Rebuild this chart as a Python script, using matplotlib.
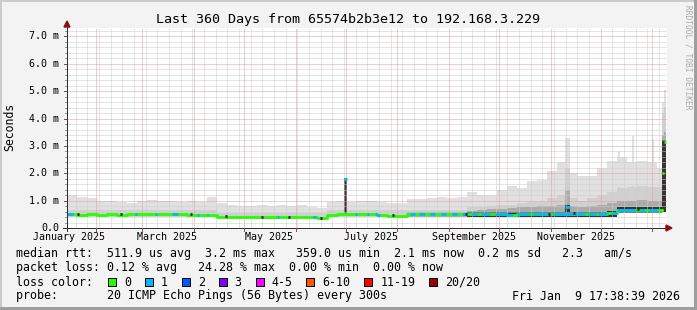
import datetime as dt

import matplotlib
matplotlib.use("Agg")
import matplotlib.pyplot as plt
from matplotlib.lines import Line2D
from matplotlib.patches import Polygon, Rectangle
import numpy as np

# --- Layout (pixels) ---
W, H = 697, 310
PLOT_L, PLOT_B, PLOT_W, PLOT_H = 67, 228, 600, 200
Y_MAX = 7.31                      # ms at top of canvas
MONO = "DejaVu Sans Mono"

START = dt.datetime(2025, 1, 14, 17, 38, 39)
END = dt.datetime(2026, 1, 9, 17, 38, 39)
SPAN_DAYS = 360
BIN_DAYS = 6
DATA_END_DAY = 357.0

# --- Data: 6-day bins, values in milliseconds ---
MEDIAN = [0.50, 0.49, 0.50, 0.49, 0.50, 0.49, 0.50, 0.50, 0.51, 0.50,
          0.52, 0.52, 0.48, 0.47, 0.46, 0.42, 0.41, 0.41, 0.40, 0.40,
          0.40, 0.40, 0.40, 0.40, 0.39, 0.36, 0.48, 0.50, 0.50, 0.50,
          0.50, 0.48, 0.44, 0.44, 0.50, 0.50, 0.50, 0.50, 0.51, 0.50,
          0.50, 0.50, 0.50, 0.50, 0.49, 0.50, 0.50, 0.50, 0.50, 0.52,
          0.51, 0.51, 0.52, 0.52, 0.53, 0.66, 0.67, 0.67, 0.66, 0.66]
SMOKE_LOW = [0.40] * 15 + [0.33] * 11 + [0.40] * 29 + [0.55] * 5
SMOKE_TOP = [1.20, 1.12, 1.08, 0.97, 1.00, 0.95, 0.92, 0.98, 1.02, 0.97,
             0.98, 0.95, 1.00, 0.95, 1.15, 0.90, 0.85, 0.80, 0.82, 0.85,
             0.82, 0.85, 0.80, 0.85, 0.78, 0.72, 0.95, 1.00, 0.95, 1.00,
             0.98, 0.95, 0.92, 0.90, 1.05, 1.05, 1.08, 1.15, 1.10, 1.15,
             1.30, 1.20, 1.20, 1.40, 1.55, 1.45, 1.70, 1.75, 2.10, 2.40,
             2.00, 1.90, 1.90, 2.20, 2.45, 2.60, 2.40, 2.45, 2.40, 2.20]
SMOKE_MID = [0.64] * 15 + [0.55] * 11 + [0.64] * 14 + \
            [0.75, 0.78, 0.80, 0.85, 0.85, 0.90, 0.95, 0.95, 1.10, 1.20,
             1.10, 1.00, 1.10, 1.20, 1.30, 1.45, 1.50, 1.55, 1.50, 1.50]
SMOKE_DARK = [0.40] * 15 + [0.33] * 11 + [0.40] * 8 + [0.58] * 6 + \
             [0.62, 0.65, 0.68, 0.70, 0.72, 0.75, 0.78, 0.80, 0.82, 0.85,
              0.80, 0.78, 0.80, 0.85, 0.90, 0.98, 1.00, 1.02, 1.00, 1.00]
SMOKE_CORE = [0.40] * 15 + [0.33] * 11 + [0.40] * 14 + \
             [0.58, 0.58, 0.58, 0.58, 0.57, 0.58, 0.58, 0.58, 0.58, 0.60,
              0.59, 0.59, 0.60, 0.60, 0.61, 0.76, 0.77, 0.77, 0.76, 0.76]

# narrow columns (start day, width in days)
SPIKE_DAY = [166.2, 298.5, 330.3, 338.7, 350.7, 357.0, 358.2]
SPIKE_WIDTH = [1.8, 3.0, 1.2, 1.2, 1.2, 1.2, 1.2]
SPIKE_LOW = [0.50, 0.45, 0.55, 0.55, 0.55, 0.60, 0.60]
SPIKE_TOP = [1.83, 3.30, 2.80, 3.37, 3.26, 4.60, 5.05]
SPIKE_MID = [1.83, 2.20, 1.50, 1.55, 1.50, 4.20, 4.44]
SPIKE_DARK = [1.83, 1.40, 1.00, 1.00, 1.00, 3.40, 3.50]
SPIKE_CORE = [1.83, 0.85, 0.76, 0.76, 0.76, 3.23, 3.23]
SPIKE_MEDIAN = [1.80, 0.75, np.nan, np.nan, np.nan, 2.02, 3.16]
SPIKE_LOSS = [1, 1, 0, 0, 0, 0, 0]

# stretches where the median had 1 lost ping (days)
LOSS1_START = [0, 40.8, 52.8, 63, 78, 84, 126, 147.6, 172.8, 180, 184.8,
               205.8, 211.2, 217.8, 224.4, 231, 237, 243, 248.4, 256.8, 270,
               279.6, 291.6, 312.6, 318.6, 326.4, 343.8, 348.6]
LOSS1_END = [3.6, 42, 54, 66.6, 79.2, 84.6, 127.2, 149.4, 174, 181.2, 187.8,
             208.8, 214.8, 220.8, 227.4, 234, 240.6, 246.6, 253.8, 267.6, 277.8,
             290.4, 310.8, 317.4, 324.6, 341.4, 346.8, 354.6]
DARK_MARK_DAY = [6.0, 31.8, 73.8, 94.8, 116.4, 132.6, 151.8, 195.0, 238.8,
                 288.6, 303.6, 342.0]

Y_LABELS = ["0.0", "1.0 m", "2.0 m", "3.0 m", "4.0 m", "5.0 m", "6.0 m", "7.0 m"]
X_LABEL_MONTHS = [(2025, 1), (2025, 3), (2025, 5), (2025, 7), (2025, 9), (2025, 11)]

LOSS_LABELS = ["0", "1", "2", "3", "4-5", "6-10", "11-19", "20/20"]
LOSS_COLORS = ["#26ff00", "#00b8ff", "#0059ff", "#7e00ff",
               "#ff00ff", "#ff5500", "#ff0000", "#a10000"]

TITLE = "Last 360 Days from 65574b2b3e12 to 192.168.3.229"
MEDIAN_TXT = "median rtt:  511.9 us avg  3.2 ms max   359.0 us min  2.1 ms now  0.2 ms sd   2.3   am/s"
LOSS_TXT = "packet loss: 0.12 % avg   24.28 % max  0.00 % min  0.00 % now"
PROBE_TXT = "probe:       20 ICMP Echo Pings (56 Bytes) every 300s"
STAMP_TXT = "Fri Jan  9 17:38:39 2026"

SMOKE_COLORS = ["#e0e0e0", "#d0d0d0", "#ababab", "#383434"]
GRID_C = "#cdcdcd"
MGRID_C = "#e39b9b"
LINE_W = 2.0


def fx(x):
    return x / W


def fy(y):
    return 1 - y / H


def day_of(t):
    return (t - START).total_seconds() / 86400.0


fig = plt.figure(figsize=(W / 100, H / 100), dpi=100, facecolor="#f3f3f3")
ax = fig.add_axes([fx(PLOT_L), fy(PLOT_B), PLOT_W / W, PLOT_H / H])
ax.set_facecolor("white")
ax.set_xlim(0, SPAN_DAYS)
ax.set_ylim(0, Y_MAX)
ax.set_xticks([])
ax.set_yticks([])
for s in ax.spines.values():
    s.set_visible(False)

# --- smoke ---
edges = np.append(np.arange(len(MEDIAN)) * BIN_DAYS, DATA_END_DAY)
low = np.append(SMOKE_LOW, SMOKE_LOW[-1])
for vals, c in zip([SMOKE_TOP, SMOKE_MID, SMOKE_DARK, SMOKE_CORE], SMOKE_COLORS):
    top = np.append(vals, vals[-1])
    ax.fill_between(edges, low, top, step="post", color=c, lw=0, zorder=1)

for vals, c in zip([SPIKE_TOP, SPIKE_MID, SPIKE_DARK, SPIKE_CORE], SMOKE_COLORS):
    ax.bar(SPIKE_DAY, np.subtract(vals, SPIKE_LOW), bottom=SPIKE_LOW,
           width=SPIKE_WIDTH, align="edge", color=c, lw=0, zorder=1.2)

# --- grid ---
dots = (0, (1, 1))
for v in np.arange(0.2, 7.3, 0.2):
    if abs(v - round(v)) > 0.01:
        ax.axhline(v, color=GRID_C, lw=0.72, ls=dots, zorder=2)
month_days = []
t = dt.datetime(2025, 2, 1)
while t < END:
    month_days.append(day_of(t))
    t = dt.datetime(t.year + t.month // 12, t.month % 12 + 1, 1)
t = dt.datetime(2025, 1, 20)
while t < END:
    d = day_of(t)
    if min(abs(d - m) for m in month_days) > 0.5:
        ax.axvline(d, color=GRID_C, lw=0.72, ls=dots, zorder=2)
    t += dt.timedelta(days=7)
for v in range(1, 8):
    ax.axhline(v, color=MGRID_C, lw=0.72, ls=dots, zorder=2.1)
for d in month_days:
    ax.axvline(d, color=MGRID_C, lw=0.72, ls=dots, zorder=2.1)

# --- median line, coloured by loss ---
ax.plot(edges, np.append(MEDIAN, MEDIAN[-1]), drawstyle="steps-post",
        color=LOSS_COLORS[0], lw=LINE_W, zorder=3)
for s, e in zip(LOSS1_START, LOSS1_END):
    i = int(s // BIN_DAYS)
    while i < len(MEDIAN) and edges[i] < e:
        ax.hlines(MEDIAN[i], max(s, edges[i]), min(e, edges[i + 1]),
                  color=LOSS_COLORS[1], lw=LINE_W, zorder=3.1)
        i += 1
for d, w, m, loss in zip(SPIKE_DAY, SPIKE_WIDTH, SPIKE_MEDIAN, SPIKE_LOSS):
    if not np.isnan(m):
        ax.hlines(m, d, d + w, color=LOSS_COLORS[loss], lw=LINE_W, zorder=3.2)
for d in DARK_MARK_DAY:
    ax.hlines(MEDIAN[int(d // BIN_DAYS)] + 0.02, d, d + 1.2, color="#222222",
              lw=LINE_W, zorder=3.3)

# --- axes, ticks, arrows (figure pixels) ---
def fline(x0, y0, x1, y1, color, lw=0.72):
    fig.add_artist(Line2D([fx(x0), fx(x1)], [fy(y0), fy(y1)], color=color,
                          lw=lw, transform=fig.transFigure, zorder=5))


px_per_ms = PLOT_H / Y_MAX
for v in np.arange(0.2, 7.3, 0.2):
    yy = PLOT_B - v * px_per_ms
    if abs(v - round(v)) > 0.01:
        fline(65, yy, 67, yy, "#9a9a9a")
    else:
        fline(64, yy, 67, yy, "#7a5050")
fline(PLOT_L, PLOT_B + 3, PLOT_L, 26, "#303030")
fline(63, PLOT_B, 667, PLOT_B, "#303030")
for d in month_days:
    xx = PLOT_L + d * PLOT_W / SPAN_DAYS
    fline(xx, PLOT_B, xx, PLOT_B + 3, "#7a5050")
fig.add_artist(Polygon([(fx(666), fy(225)), (fx(666), fy(231)), (fx(672), fy(228))],
                       closed=True, color="#8b1010", transform=fig.transFigure, zorder=6))
fig.add_artist(Polygon([(fx(64), fy(27)), (fx(70), fy(27)), (fx(67), fy(21))],
                       closed=True, color="#8b1010", transform=fig.transFigure, zorder=6))

# --- tick labels ---
ytr = ax.get_yaxis_transform()
for v, lab in enumerate(Y_LABELS):
    ax.text(-8 / PLOT_W, v, lab, transform=ytr, ha="right", va="center",
            family=MONO, fontsize=7.2, color="black")
xtr = ax.get_xaxis_transform()
for yr, mo in X_LABEL_MONTHS:
    t = dt.datetime(yr, mo, 16)
    ax.text(day_of(t), -9.3 / PLOT_H, t.strftime("%B %Y"), transform=xtr,
            ha="center", va="center", family=MONO, fontsize=7.2, color="black",
            clip_on=False)

# --- texts ---
fig.text(0.5, fy(19), TITLE, ha="center", va="center", family=MONO, fontsize=9.6)
fig.text(fx(10), fy(127), "Seconds", rotation=90, ha="center", va="center",
         family=MONO, fontsize=8.3)
fig.text(fx(688), fy(57), "RRDTOOL / TOBI OETIKER", rotation=270, ha="center",
         va="center", family=MONO, fontsize=5.7, color="#a8a8a8")

LEG_FS = 8.34
CHAR_W = 6.97
fig.text(fx(16), fy(254), MEDIAN_TXT, va="center", family=MONO, fontsize=LEG_FS)
fig.text(fx(16), fy(268), LOSS_TXT, va="center", family=MONO, fontsize=LEG_FS)
fig.text(fx(16), fy(282), "loss color:", va="center", family=MONO, fontsize=LEG_FS)
fig.text(fx(16), fy(296), PROBE_TXT, va="center", family=MONO, fontsize=LEG_FS)
fig.text(fx(680), fy(296), STAMP_TXT, ha="right", va="center", family=MONO,
         fontsize=LEG_FS)

bx = 108.0
for lab, c in zip(LOSS_LABELS, LOSS_COLORS):
    fig.add_artist(Rectangle((fx(bx), fy(286)), 8 / W, 8 / H, facecolor=c,
                             edgecolor="black", lw=0.72, transform=fig.transFigure))
    fig.text(fx(bx + 16), fy(282), lab, va="center", family=MONO, fontsize=LEG_FS)
    bx += 16 + (len(lab) + 2) * CHAR_W

# --- 3D frame ---
fig.add_artist(Rectangle((0, fy(2)), 1, 2 / H, color="#cbcbcb", lw=0, transform=fig.transFigure))
fig.add_artist(Rectangle((0, 0), 2 / W, 1, color="#cbcbcb", lw=0, transform=fig.transFigure))
fig.add_artist(Rectangle((fx(W - 3), 0), 3 / W, 1, color="#9e9e9e", lw=0, transform=fig.transFigure))
fig.add_artist(Rectangle((0, 0), 1, 3 / H, color="#9e9e9e", lw=0, transform=fig.transFigure))

fig.savefig("out.png", dpi=100, facecolor=fig.get_facecolor())
